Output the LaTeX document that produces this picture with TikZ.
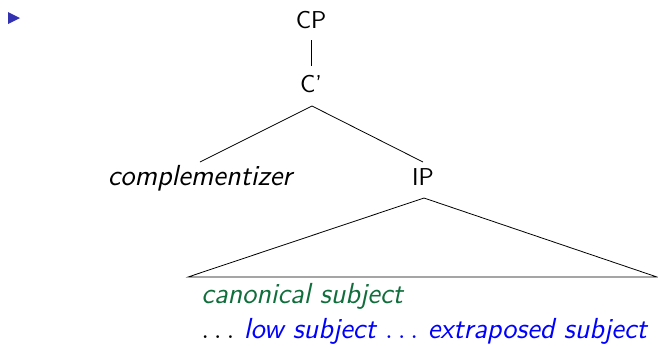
\documentclass[tikz,border=0pt]{standalone}
\usepackage{fontspec}
\begin{document}
\definecolor{structblue}{rgb}{0.2,0.2,0.7}
\definecolor{subjgreen}{RGB}{16,110,60}
\begin{tikzpicture}[x=0.5pt,y=-0.5pt,
  every node/.style={font=\fontsize{12.2}{14}\selectfont\sffamily, inner sep=0pt},
  label/.style={anchor=base},
  leaf/.style={font=\fontsize{14.5}{17}\selectfont\sffamily\itshape},
  branch/.style={line width=0.4pt, black}]
\useasboundingbox (0,0) rectangle (658,345);
% item bullet
\fill[structblue] (8,12) -- (20,18) -- (8,24) -- cycle;
% tree nodes
\node[label] (cp) at (311,28) {CP};
\node[label] (cbar) at (311,92) {C'};
\node[label, leaf] (comp) at (200,185) {complementizer};
\node[label] (ip) at (423,185) {IP};
% branches
\draw[branch] (311,40) -- (311,66);
\coordinate (cbarfoot) at (312,106);
\coordinate (compTop) at (200,162);
\coordinate (ipTop) at (423,162);
\draw[branch] (compTop) -- (cbarfoot) -- (ipTop);
% triangle under IP
\coordinate (ipfoot) at (424,198);
\coordinate (triL) at (188,277);
\coordinate (triR) at (657,277);
\draw[branch] (triL) -- (ipfoot) -- (triR) -- cycle;
% yield
\node[anchor=base west, leaf, text=subjgreen] (canon) at (201,303) {canonical subject};
\node[anchor=base west, leaf] (yield) at (201,338) {\upshape$\ldots$\ \textcolor{blue}{\itshape low subject $\ldots$ extraposed subject}};
\end{tikzpicture}
\end{document}
